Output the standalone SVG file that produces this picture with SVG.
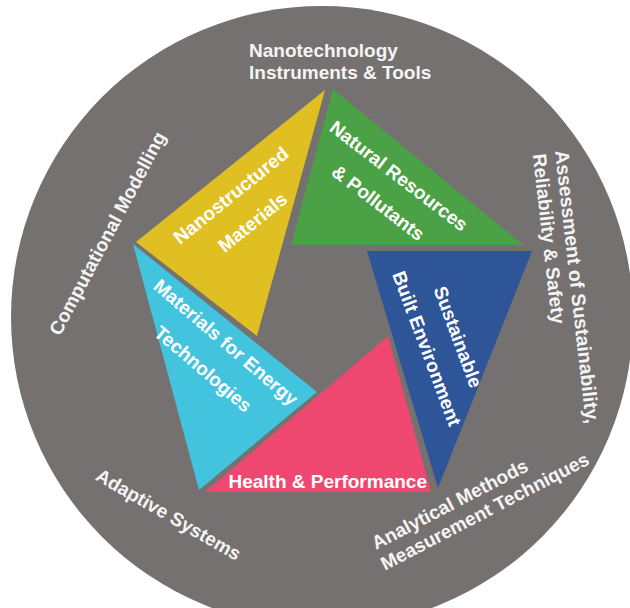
<svg xmlns="http://www.w3.org/2000/svg" width="630" height="608" viewBox="0 0 630 608">
<style>
text{font-family:"Liberation Sans",Arial,sans-serif;font-weight:bold;fill:#ffffff;font-size:19px}
.outer{fill:#f4f4f4}
.mid{text-anchor:middle}
</style>
<rect x="0" y="0" width="630" height="608" fill="#ffffff"/>
<circle id="ring" cx="322" cy="317" r="311" fill="#757170"/>
<g id="nanostructured">
<polygon points="325,90 136,242 257,336" fill="#E0BF22"/>
<g transform="translate(235,200.5) rotate(-39)"><text class="mid" x="0" y="0">Nanostructured</text><text class="mid" x="0" y="34.6">Materials</text></g>
</g>
<g id="natural">
<polygon points="333,89 291,245 523,245" fill="#4BA246"/>
<g transform="translate(394.8,181.2) rotate(37.5)"><text class="mid" x="0" y="0">Natural Resources</text><text class="mid" x="0" y="33.8">&amp; Pollutants</text></g>
</g>
<g id="sustainable">
<polygon points="367,251 532,251 438,488" fill="#2D5598"/>
<g transform="translate(420.7,350.9) rotate(69.5)"><text class="mid" x="0" y="-33.3">Sustainable</text><text class="mid" x="0" y="0">Built Environment</text></g>
</g>
<g id="health">
<polygon points="388,336 205,492 431,492" fill="#EE4870"/>
<text class="mid" x="327.7" y="487.7">Health &amp; Performance</text>
</g>
<g id="energy">
<polygon points="133,244 317,392 199,490" fill="#42C3DE"/>
<g transform="translate(221.6,347.4) rotate(40.5)"><text class="mid" x="0" y="0">Materials for Energy</text><text class="mid" x="0" y="35">Technologies</text></g>
</g>
<g id="instruments">
<text class="outer" x="249" y="57">Nanotechnology</text>
<text class="outer" x="249" y="78.5">Instruments &amp; Tools</text>
</g>
<g id="computational">
<text class="outer mid" transform="translate(113.2,236.5) rotate(-62)">Computational Modelling</text>
</g>
<g id="assessment" transform="translate(555,151) rotate(83.5)">
<text class="outer" x="0" y="0" style="font-size:19.5px">Assessment of Sustainability,</text>
<text class="outer" x="1" y="22.5">Reliability &amp; Safety</text>
</g>
<g id="analytical" transform="translate(376,550) rotate(-27.5)">
<text class="outer" x="0" y="0">Analytical Methods</text>
<text class="outer" x="-1.6" y="22.5">Measurement Techniques</text>
</g>
<g id="adaptive">
<text class="outer mid" transform="translate(165.3,520.2) rotate(30)">Adaptive Systems</text>
</g>
</svg>
